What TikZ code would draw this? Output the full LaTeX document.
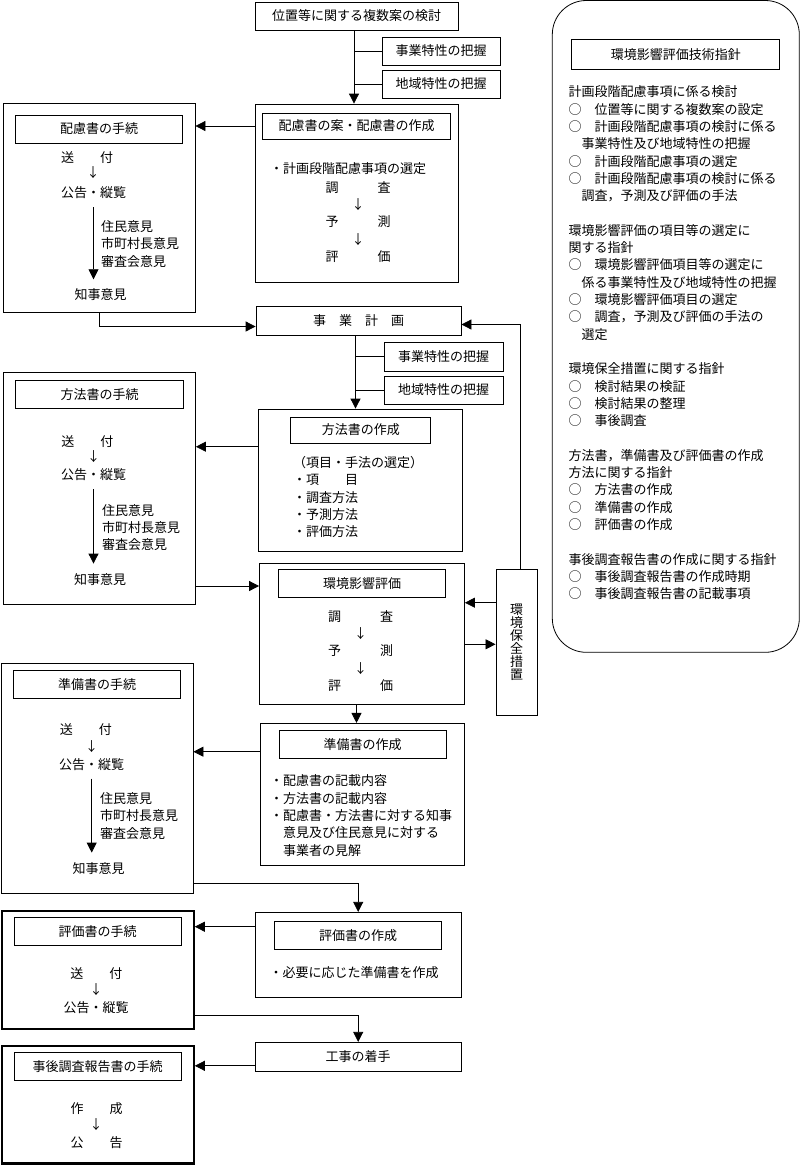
\documentclass[tikz,border=0pt]{standalone}
\usepackage{fontspec}
\setmainfont{Noto Sans CJK JP}
\usepackage{tikz}
\usetikzlibrary{arrows.meta, positioning}
\tikzset{
  frame/.style={
    rectangle,
    draw=black,
    line width=0.8pt,
    inner sep=0pt,
    align=center
    },
  heavy/.style={
    frame,
    line width=2.2pt
    },
  title/.style={
    rectangle,
    draw=black,
    line width=0.8pt,
    minimum width=167pt,
    minimum height=28pt,
    inner sep=0pt,
    align=center
    },
  txt/.style={
    inner sep=0pt,
    align=left
    },
  arrow/.style={
    ->,
    line width=0.8pt,
    >={Triangle[length=10pt,width=10pt]}
    },
  longarrow/.style={
    arrow,
    shorten <=8pt,
    shorten >=9.5pt
    },
  link/.style={line width=0.8pt}
}

\begin{document}
\begin{tikzpicture}[
  x=1pt,
  y=-1pt,
  font=\fontsize{13pt}{17.3pt}\selectfont
  ]
\useasboundingbox (0,0) rectangle (800,1165);
\node (kento) [frame, minimum width=203pt, minimum height=28pt] at (356.5,16) {位置等に関する複数案の検討};
\node (jigyo1) [frame, minimum width=118pt, minimum height=28pt] at (441,51) {事業特性の把握};
\node (chiiki1) [frame, minimum width=118pt, minimum height=28pt] at (441,84) {地域特性の把握};
\node (hairyo) [frame, minimum width=203pt, minimum height=178pt] at (356.5,193) {};
\node (hairyoH) [title, minimum width=188pt, minimum height=26pt, below=9pt of hairyo.north] {配慮書の案・配慮書の作成};
\node (sentei) [txt, anchor=west] at (270,169) {・計画段階配慮事項の選定};
\node (yosoku1) [txt, align=center] at (358,222) {調　　　査\\↓\\予　　　測\\↓\\評　　　価};
\node (keikaku) [frame, minimum width=205pt, minimum height=29pt] at (358.5,320.5) {事　業　計　画};
\node (jigyo2) [frame, minimum width=119pt, minimum height=29pt] at (443.5,356.5) {事業特性の把握};
\node (chiiki2) [frame, minimum width=119pt, minimum height=28pt] at (443.5,390) {地域特性の把握};
\node (hoho) [frame, minimum width=204pt, minimum height=142pt] at (360.8,480) {};
\node (hohoH) [title, minimum width=140pt, minimum height=26pt, below=8pt of hoho.north] {方法書の作成};
\node (koumoku) [txt, anchor=west] at (293,497) {（項目・手法の選定）\\・項　　目\\・調査方法\\・予測方法\\・評価方法};
\node (eikyo) [frame, minimum width=205pt, minimum height=141pt] at (362,633.5) {};
\node (eikyoH) [title, below=6.3pt of eikyo.north] {環境影響評価};
\node (yosoku2) [txt, align=center] at (360.5,651) {調　　　査\\↓\\予　　　測\\↓\\評　　　価};
\node (hozen) [frame, minimum width=41.5pt, minimum height=146pt, font=\fontsize{13pt}{13pt}\selectfont] at (516.7,642.2) {環\\境\\保\\全\\措\\置};
\node (junbi) [frame, minimum width=204pt, minimum height=141.7pt] at (362.5,794.2) {};
\node (junbiH) [title, below=7.4pt of junbi.north] {準備書の作成};
\node (kisai) [txt, anchor=west] at (270,815.5) {・配慮書の記載内容\\・方法書の記載内容\\・配慮書・方法書に対する知事\\　意見及び住民意見に対する\\　事業者の見解};
\node (hyoka) [frame, minimum width=205.5pt, minimum height=85pt] at (358.2,954.8) {};
\node (hyokaH) [title, below=9pt of hyoka.north] {評価書の作成};
\node (hitsuyo) [txt, anchor=west] at (269.5,972.3) {・必要に応じた準備書を作成};
\node (chakushu) [frame, minimum width=205.5pt, minimum height=29pt] at (358.2,1056.8) {工事の着手};

\node (hairyoT) [frame, minimum width=192pt, minimum height=209pt] at (99,207.5) {};
\node (hairyoTH) [title, below=12pt of hairyoT.north] {配慮書の手続};
\node (sofu1) [txt] at (87,158) {送　　付};
\node (ya1) [txt] at (93,173) {↓};
\node (kokoku1) [txt] at (93.5,193) {公告・縦覧};
\node (iken1) [txt, anchor=west] at (101,244) {住民意見\\市町村長意見\\審査会意見};
\node (chiji1) [txt] at (100.5,295) {知事意見};
\node (hohoT) [frame, minimum width=192pt, minimum height=232pt] at (99.5,488) {};
\node (hohoTH) [title, minimum width=168pt, below=8.7pt of hohoT.north] {方法書の手続};
\node (sofu2) [txt] at (87.3,441.7) {送　　付};
\node (ya2) [txt] at (93.5,456.7) {↓};
\node (kokoku2) [txt] at (93.5,475) {公告・縦覧};
\node (iken2) [txt, anchor=west] at (102,527.7) {住民意見\\市町村長意見\\審査会意見};
\node (chiji2) [txt] at (100,579.3) {知事意見};
\node (junbiT) [frame, minimum width=192pt, minimum height=230pt] at (97,778.3) {};
\node (junbiTH) [title, below=7.4pt of junbiT.north] {準備書の手続};
\node (sofu3) [txt] at (85.8,730) {送　　付};
\node (ya3) [txt] at (91.7,746.7) {↓};
\node (kokoku3) [txt] at (91.7,764.3) {公告・縦覧};
\node (iken3) [txt, anchor=west] at (100,816) {住民意見\\市町村長意見\\審査会意見};
\node (chiji3) [txt] at (98.6,868.3) {知事意見};
\node (hyokaT) [heavy, minimum width=192pt, minimum height=117.7pt] at (97.7,969.9) {};
\node (hyokaTH) [title, below=7.3pt of hyokaT.north] {評価書の手続};
\node (sofu4) [txt] at (96.3,973.3) {送　　付};
\node (ya4) [txt] at (96.2,990) {↓};
\node (kokoku4) [txt] at (96,1007.7) {公告・縦覧};
\node (jigoT) [heavy, minimum width=192pt, minimum height=117.8pt] at (97.7,1104.6) {};
\node (jigoTH) [title, below=7.6pt of jigoT.north] {事後調査報告書の手続};
\node (sakusei) [txt] at (96.7,1108.3) {作　　成};
\node (ya5) [txt] at (96.2,1125) {↓};
\node (koku) [txt] at (96.7,1142.7) {公　　告};

\node (shishin) [frame, rounded corners=34pt, minimum width=247pt, minimum height=651.8pt] at (675.8,326.4) {};
\node (shishinH) [frame, minimum width=208pt, minimum height=30pt, below=39pt of shishin.north] {環境影響評価技術指針};
\node (koumokuR) [txt, anchor=west] at (568.3,342.9) {計画段階配慮事項に係る検討\\
○　位置等に関する複数案の設定\\
○　計画段階配慮事項の検討に係る\\
　事業特性及び地域特性の把握\\
○　計画段階配慮事項の選定\\
○　計画段階配慮事項の検討に係る\\
　調査，予測及び評価の手法\\[17.3pt]
環境影響評価の項目等の選定に\\
関する指針\\
○　環境影響評価項目等の選定に\\
　係る事業特性及び地域特性の把握\\
○　環境影響評価項目の選定\\
○　調査，予測及び評価の手法の\\
　選定\\[17.3pt]
環境保全措置に関する指針\\
○　検討結果の検証\\
○　検討結果の整理\\
○　事後調査\\[17.3pt]
方法書，準備書及び評価書の作成\\
方法に関する指針\\
○　方法書の作成\\
○　準備書の作成\\
○　評価書の作成\\[17.3pt]
事後調査報告書の作成に関する指針\\
○　事後調査報告書の作成時期\\
○　事後調査報告書の記載事項};

\coordinate (trunk1) at ([xshift=-2.5pt]kento.south);
\coordinate (trunk2) at ([xshift=-3pt]keikaku.south);
\coordinate (trunk3) at ([xshift=-5.5pt]eikyo.south);
\draw[{arrow}] (trunk1) -- (trunk1 |- hairyo.north);
\draw[{link}] (jigyo1.west) -- (jigyo1.west -| trunk1);
\draw[{link}] (chiiki1.west) -- (chiiki1.west -| trunk1);
\draw[{arrow}] (hairyo.west |- hairyoH) -- (hairyoT.east |- hairyoH);
\draw[{arrow}] (hairyoT.south) |- ([yshift=-6pt]keikaku.west);
\draw[{arrow}] ([xshift=3.5pt]hozen.north) |- ([yshift=-4pt]keikaku.east);
\draw[{arrow}] (trunk2) -- (trunk2 |- hoho.north);
\draw[{link}] (jigyo2.west) -- (jigyo2.west -| trunk2);
\draw[{link}] (chiiki2.west) -- (chiiki2.west -| trunk2);
\draw[{arrow}] ([yshift=33.3pt]hoho.west) -- ([yshift=33.3pt]hoho.west -| hohoT.east);
\draw[{arrow}] ([yshift=-98pt]hohoT.east) -- ([yshift=-98pt]hohoT.east -| eikyo.west);
\draw[{arrow}] ([yshift=39.5pt]hozen.west) -- ([yshift=39.5pt]hozen.west -| eikyo.east);
\draw[{arrow}] ([yshift=-10.8pt]eikyo.east) -- ([yshift=-10.8pt]eikyo.east -| hozen.west);
\draw[{arrow}] (trunk3) -- (trunk3 |- junbi.north);
\draw[{arrow}] ([yshift=42.5pt]junbi.west) -- ([yshift=42.5pt]junbi.west -| junbiT.east);
\draw[{arrow}] ([yshift=-105pt]junbiT.east) -| (hyoka.north);
\draw[{arrow}] ([yshift=28.1pt]hyoka.west) -- ([yshift=28.1pt]hyoka.west -| hyokaT.east);
\draw[{arrow}] ([yshift=-45.3pt]hyokaT.east) -| (chakushu.north);
\draw[{arrow}] ([yshift=-9pt]chakushu.west) -- ([yshift=-9pt]chakushu.west -| jigoT.east);
\draw[{longarrow}] (kokoku1.south) -- (kokoku1.south |- chiji1.north);
\draw[{longarrow}] (kokoku2.south) -- (kokoku2.south |- chiji2.north);
\draw[{longarrow}] (kokoku3.south) -- (kokoku3.south |- chiji3.north);
\end{tikzpicture}
\end{document}
